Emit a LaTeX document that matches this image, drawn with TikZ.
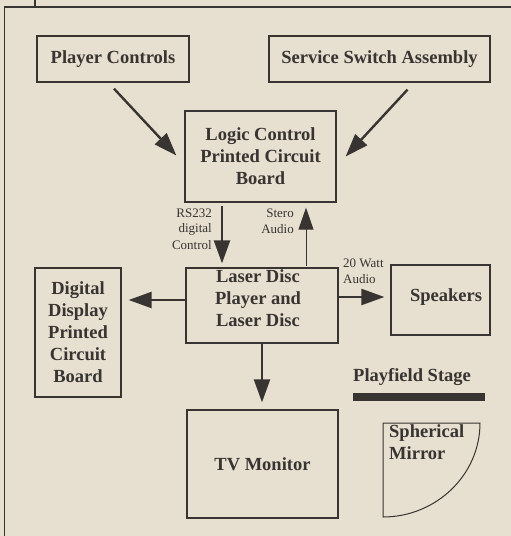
\documentclass[tikz,border=0pt]{standalone}
\usepackage{fontspec}
\setmainfont{Liberation Serif}
\usetikzlibrary{arrows.meta,calc}
\definecolor{paper}{RGB}{231,223,207}
\definecolor{ink}{RGB}{55,52,50}
\tikzset{
  box/.style={draw=ink,line width=1.3pt,rectangle,inner sep=0pt,font=\bfseries\fontsize{18.5}{22}\selectfont,text=ink,align=center},
  btext/.style={inner sep=0pt,font=\bfseries\fontsize{18.5}{22}\selectfont,text=ink,align=center},
  small/.style={inner sep=0pt,font=\fontsize{13}{16}\selectfont,text=ink},
  arr/.style={draw=ink,line width=2.4pt,-{Triangle[length=23pt,width=16pt]}},
  thinarr/.style={draw=ink,line width=1pt,-{Triangle[length=22pt,width=15pt]}},
}
\begin{document}
\begin{tikzpicture}[x=1pt,y=-1pt]
\fill[paper] (0,0) rectangle (511,536);
\useasboundingbox (0,0) rectangle (511,536);
% frame
\coordinate (ftop) at (35,0);
\coordinate (fjoin) at (35,7);
\coordinate (fl) at (4.5,7);
\coordinate (fr) at (511,7);
\coordinate (fb) at (4.5,536);
\draw[ink,line width=1.3pt] (ftop) -- (fjoin);
\draw[ink,line width=1.3pt] (fr) -- (fl) -- (fb);

% boxes
\node[box,minimum width=152pt,minimum height=46pt] (pc) at (113,59) {Player Controls};
\node[box,minimum width=221pt,minimum height=46pt] (ss) at (379.5,59) {Service Switch Assembly};
\node[box,minimum width=151pt,minimum height=91pt] (logic) at (260.5,156.5) {Logic Control\\Printed Circuit\\Board};
\node[box,minimum width=152pt,minimum height=75pt] (laser) at (262,305.5) {};
\node[btext] (lasert) at (258,298.5) {Laser Disc\\Player and\\Laser Disc};
\node[box,minimum width=86pt,minimum height=129pt] (dd) at (78,332.5) {Digital\\Display\\Printed\\Circuit\\Board};
\node[box,minimum width=99pt,minimum height=70pt] (spk) at (440.5,300) {};
\node[btext] (spkt) at (446,297) {Speakers};
\node[box,minimum width=151pt,minimum height=108pt] (tv) at (262.5,464) {TV Monitor};

% playfield stage
\node[btext,anchor=west] (pfs) at (353,377) {Playfield Stage};
\fill[ink] (353,393) rectangle (485,401);

% spherical mirror
\draw[ink,line width=1pt] (383,423) -- (480,423) .. controls (480,475) and (436,517) .. (383,517) -- cycle;
\node[btext,anchor=north west,align=left] (mir) at (389,424) {Spherical\\Mirror};

% connectors
\draw[arr] ($(pc.south)+(1,6)$) -- ($(logic.west)+(-8,-1)$);
\draw[arr] ($(ss.south)+(28,7)$) -- ($(logic.east)+(9,0)$);
\draw[arr] ($(logic.south)+(-38.5,3)$) -- ($(laser.north)+(-40,-4)$);
\draw[thinarr] ($(laser.north)+(44,-1)$) -- ($(logic.south)+(45.5,5)$);
\draw[arr] ($(laser.west)+(0,-5.5)$) -- ($(dd.east)+(7,-32.5)$);
\draw[arr] ($(laser.east)+(0,-8.5)$) -- ($(spk.west)+(-6,-3)$);
\draw[arr] (laser.south) -- ($(tv.north)+(-0.5,-7)$);

% labels
\node[small,anchor=east] (l1) at (212,213) {RS232};
\node[small,anchor=east] (l2) at (212,229) {digital};
\node[small,anchor=east] (l3) at (212,245) {Control};
\node[small,anchor=east] (l4) at (294,213) {Stero};
\node[small,anchor=east] (l5) at (294,229) {Audio};
\node[small,anchor=west] (l6) at (343,263) {20 Watt};
\node[small,anchor=west] (l7) at (343,279) {Audio};
\end{tikzpicture}
\end{document}
